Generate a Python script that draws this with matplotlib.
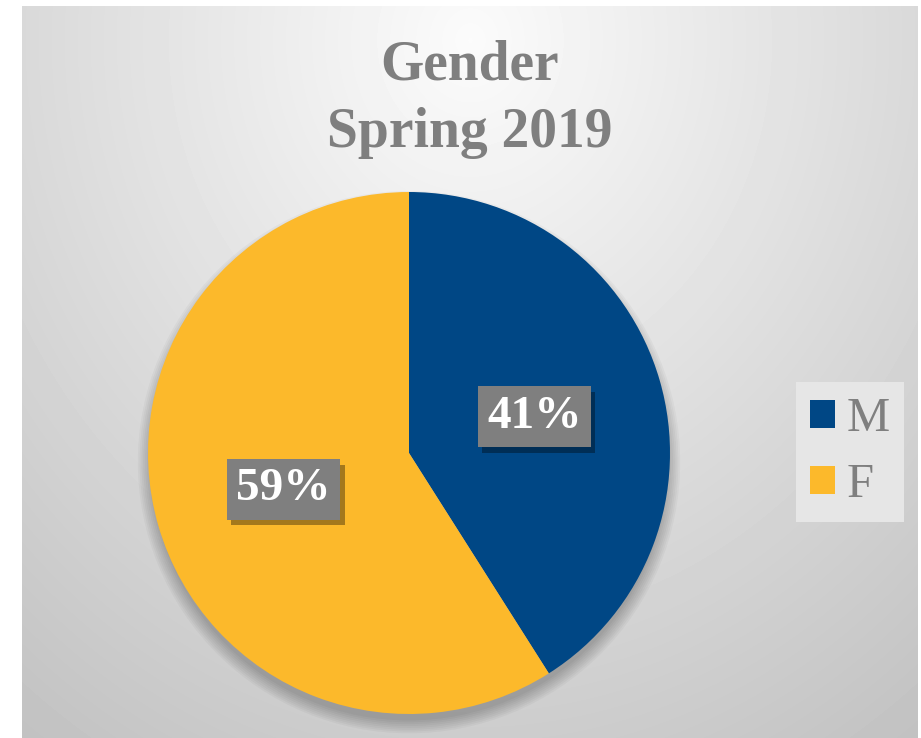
import matplotlib.pyplot as plt
import matplotlib.patheffects as pe
from matplotlib.patches import Circle
import numpy as np

labels = ['M', 'F']
shares = [41, 59]
colors = ['#004785', '#fcb92b']
title = 'Gender\nSpring 2019'

W, H = 921, 738
serif = ['Liberation Serif', 'DejaVu Serif']
fig = plt.figure(figsize=(W / 100, H / 100), dpi=100)
fig.patch.set_facecolor('white')

# background of the chart area: soft radial grey gradient
x0, x1, y0, y1 = 22, 918, 6, 738
bg = fig.add_axes([x0 / W, 0, (x1 - x0) / W, (y1 - y0) / H])
bg.set_axis_off()
xx, yy = np.meshgrid(np.arange(x0, x1), np.arange(y0, y1))
r = np.sqrt(((xx - 470) / 700.0) ** 2 + ((yy - 40) / 800.0) ** 2)
v = np.clip(0.985 - 0.21 * r, 0, 1)
bg.imshow(v, cmap='gray', vmin=0, vmax=1, aspect='auto', interpolation='bilinear')

# pie
cx, cy, rad = 409, 453, 261
ax = fig.add_axes([(cx - rad * 1.08) / W, (H - cy - rad * 1.08) / H, 2.16 * rad / W, 2.16 * rad / H])
ax.set_axis_off()
for k in range(8):
    ax.add_patch(Circle((0, -0.035), 0.99 + 0.007 * k, color='black', alpha=0.03, lw=0, zorder=0))
wedges, texts = ax.pie(shares, colors=colors, startangle=90, counterclock=False,
                       radius=1, wedgeprops=dict(linewidth=0))
for w in wedges:
    w.set_zorder(2)
ax.set_xlim(-1.08, 1.08)
ax.set_ylim(-1.08, 1.08)
ax.set_aspect('equal')

# percentage labels
for w, s in zip(wedges, shares):
    mid = np.deg2rad((w.theta1 + w.theta2) / 2)
    px, py = 0.5 * np.cos(mid), 0.5 * np.sin(mid)
    t = ax.text(px, py, f'{s}%', ha='center', va='center', fontsize=34, fontweight='bold',
                family=serif, color='white', zorder=4,
                bbox=dict(boxstyle='square,pad=0.2', fc='#7f7f7f', ec='none'))
    t.get_bbox_patch().set_path_effects([
        pe.SimplePatchShadow(offset=(3, -4), shadow_rgbFace='black', alpha=0.35),
        pe.Normal()])

# title
fig.text(470 / W, 1 - 99 / H, title, ha='center', va='center', fontsize=40,
         fontweight='bold', family=serif, color='#7f7f7f', linespacing=1.38)

# legend
leg = fig.legend(wedges, labels, loc='center', bbox_to_anchor=(850 / W, 1 - 452 / H),
                 prop=dict(family=serif, size=35), handlelength=0.5,
                 handleheight=0.5, handletextpad=0.25, labelspacing=0.45, borderpad=0.3,
                 fancybox=False, frameon=True, borderaxespad=0)
leg.get_frame().set_facecolor('#e6e6e6')
leg.get_frame().set_edgecolor('none')
leg.get_frame().set_alpha(1)
for t in leg.get_texts():
    t.set_color('#7f7f7f')

fig.savefig('out.png', dpi=100)
